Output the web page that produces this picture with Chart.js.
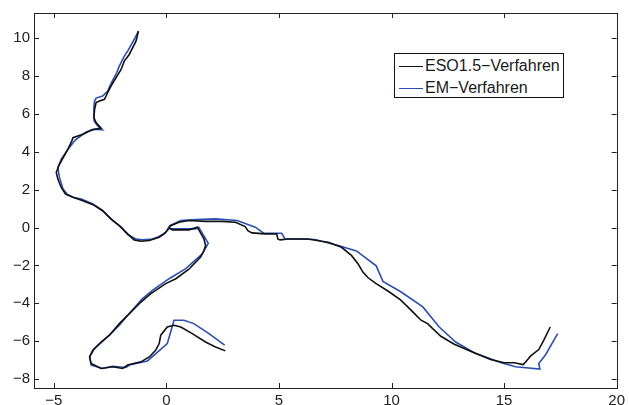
<!DOCTYPE html>
<html>
<head>
<meta charset="utf-8">
<script src="https://cdn.jsdelivr.net/npm/chart.js@4/dist/chart.umd.min.js"></script>
<style>
  html, body { margin: 0; padding: 0; background: #fff; }
  #wrap { position: relative; width: 629px; height: 405px; }
  #legend {
    position: absolute; left: 394px; top: 53px; width: 170px; height: 45px;
    border: 1px solid #111; background: #fff; box-sizing: border-box;
    font-family: "Liberation Sans", Arial, sans-serif; font-size: 16px; color: #1a1a1a;
  }
  .row { position: absolute; left: 4px; height: 20px; line-height: 20px; white-space: nowrap; }
  .row span.sw { display: inline-block; width: 24px; height: 0; vertical-align: middle; margin-right: 2px; }
</style>
</head>
<body>
<div id="wrap">
  <canvas id="c" width="629" height="405"></canvas>
  <div id="legend"></div>
</div>
<script>
// Trajectory estimates (x, y) for the two methods.
// Each trajectory has a main run (top branch + long branch to the right)
// and a second run (the loop starting near the origin).
const esoMain = [
  [-1.24,10.37],[-1.35,9.84],[-1.65,9.14],[-1.87,8.79],[-2.01,8.35],[-2.24,7.91],[-2.46,7.47],
  [-2.61,7.12],[-2.75,6.77],[-2.97,6.68],[-3.12,6.6],[-3.19,6.25],[-3.22,5.8],[-3.12,5.54],
  [-2.9,5.25],[-3.19,5.19],[-3.41,5.1],[-3.71,4.93],[-4.15,4.75],[-4.2,4.58],[-4.37,4.14],
  [-4.62,3.61],[-4.78,3.26],[-4.89,2.91],[-4.82,2.56],[-4.67,2.12],[-4.48,1.77],[-4.15,1.6],
  [-3.71,1.42],[-3.26,1.21],[-2.83,0.89],[-2.46,0.46],[-2.09,0.1],[-1.72,-0.33],[-1.43,-0.65],
  [-1.13,-0.72],[-0.76,-0.68],[-0.32,-0.51],[-0.1,-0.33],[0.04,-0.16],[0.12,-0.02],[0.19,0.1],
  [0.56,0.28],[1.0,0.37],[1.74,0.33],[2.47,0.33],[3.07,0.28],[3.5,0.05],[3.62,-0.16],[3.8,-0.28],
  [4.39,-0.33],[4.9,-0.33],[4.95,-0.6],[5.05,-0.65],[5.42,-0.6],[6.3,-0.6],[6.89,-0.72],
  [7.19,-0.77],[7.78,-1.04],[8.22,-1.47],[8.51,-1.91],[8.73,-2.35],[8.96,-2.65],[9.3,-2.95],
  [9.84,-3.35],[10.4,-3.82],[10.72,-4.19],[11.02,-4.54],[11.31,-4.89],[11.6,-5.07],[12.19,-5.74],
  [12.79,-6.16],[13.67,-6.61],[14.4,-6.96],[15.0,-7.14],[15.44,-7.14],[15.85,-7.23],[16.02,-7.0],
  [16.17,-6.79],[16.54,-6.44],[16.76,-5.95],[17.05,-5.25]
];
const esoLoop = [
  [0.12,-0.02],[0.27,-0.12],[1.0,-0.12],[1.37,0.02],[1.67,-0.6],[1.74,-0.95],[1.67,-1.21],
  [1.52,-1.56],[1.0,-2.2],[0.42,-2.7],[-0.03,-2.96],[-0.69,-3.49],[-1.13,-3.93],[-1.57,-4.46],
  [-2.09,-5.07],[-2.53,-5.68],[-2.9,-6.04],[-3.27,-6.47],[-3.41,-6.83],[-3.34,-7.18],[-2.9,-7.44],
  [-2.39,-7.35],[-1.94,-7.44],[-1.72,-7.26],[-1.13,-7.09],[-0.76,-6.83],[-0.47,-6.47],
  [-0.32,-6.12],[-0.25,-5.68],[0.04,-5.25],[0.34,-5.16],[0.64,-5.25],[1.15,-5.6],[1.74,-6.04],
  [2.18,-6.3],[2.62,-6.51]
];
const emMain = [
  [-1.24,10.37],[-1.43,9.93],[-1.72,9.32],[-1.87,9.05],[-2.1,8.5],[-2.2,8.2],[-2.46,7.6],
  [-2.61,7.21],[-2.83,6.95],[-3.12,6.84],[-3.19,6.68],[-3.22,6.33],[-3.21,5.63],[-3.05,5.37],
  [-2.84,5.16],[-3.27,5.19],[-3.6,5.02],[-4.05,4.62],[-4.37,4.14],[-4.67,3.61],[-4.82,3.17],
  [-4.75,2.65],[-4.59,2.04],[-4.4,1.75],[-4.15,1.6],[-3.78,1.51],[-3.26,1.25],[-2.83,0.89],
  [-2.39,0.37],[-2.01,0.02],[-1.72,-0.37],[-1.35,-0.6],[-1.06,-0.65],[-0.62,-0.6],[-0.32,-0.47],
  [-0.03,-0.25],[0.15,0.1],[0.64,0.37],[1.3,0.42],[2.18,0.46],[3.14,0.37],[3.95,0.02],
  [4.32,-0.3],[4.83,-0.3],[5.12,-0.3],[5.27,-0.6],[5.86,-0.6],[6.6,-0.63],[7.63,-0.95],
  [8.44,-1.23],[9.32,-2.02],[9.62,-2.84],[10.43,-3.4],[11.39,-4.19],[12.12,-5.25],[12.85,-6.04],
  [13.67,-6.61],[14.84,-7.12],[15.51,-7.35],[16.59,-7.47],[16.54,-7.17],[16.83,-6.74],[17.38,-5.6]
];
const emLoop = [
  [0.19,-0.07],[1.3,-0.07],[1.44,0.02],[1.86,-0.83],[1.59,-1.39],[1.52,-1.47],[0.86,-2.17],
  [0.12,-2.7],[-0.62,-3.32],[-1.06,-3.75],[-1.65,-4.54],[-2.09,-5.16],[-2.53,-5.68],[-3.19,-6.39],
  [-3.41,-6.83],[-3.34,-7.26],[-2.83,-7.44],[-2.39,-7.32],[-1.79,-7.39],[-1.65,-7.26],
  [-0.84,-7.04],[-0.47,-6.65],[0.04,-6.12],[0.34,-4.89],[0.78,-4.89],[1.22,-5.07],[1.89,-5.6],
  [2.59,-6.21]
];

const seriesNames = ['ESO1.5\u2212Verfahren', 'EM\u2212Verfahren'];
const seriesColors = ['#111111', '#2a4fb0'];
const xTicks = [-5, 0, 5, 10, 15, 20];
const yTicks = [-8, -6, -4, -2, 0, 2, 4, 6, 8, 10];
const xRange = [-5.88, 20];
const yRange = [-8.47, 11.33];

const toPts = arr => arr.map(p => ({ x: p[0], y: p[1] }));
const mkSet = (label, data, color) => ({
  label, data: toPts(data), borderColor: color, backgroundColor: color,
  borderWidth: 1.6, pointRadius: 0, showLine: true, tension: 0, fill: false
});

const FONT = '"Liberation Sans", Arial, sans-serif';
const fmt = v => (v < 0 ? '\u2212' + Math.abs(v) : String(v));

// MATLAB-style box with inward ticks on all four sides
const boxTicks = {
  id: 'boxTicks',
  afterDraw(chart) {
    const { ctx, chartArea: a, scales: { x, y } } = chart;
    const L = 5;
    ctx.save();
    ctx.strokeStyle = '#222';
    ctx.lineWidth = 1;
    ctx.beginPath();
    xTicks.forEach(v => {
      const px = Math.round(x.getPixelForValue(v)) + 0.5;
      ctx.moveTo(px, a.bottom); ctx.lineTo(px, a.bottom - L);
      ctx.moveTo(px, a.top); ctx.lineTo(px, a.top + L);
    });
    yTicks.forEach(v => {
      const py = Math.round(y.getPixelForValue(v)) + 0.5;
      ctx.moveTo(a.left, py); ctx.lineTo(a.left + L, py);
      ctx.moveTo(a.right, py); ctx.lineTo(a.right - L, py);
    });
    ctx.stroke();
    ctx.strokeRect(Math.round(a.left) + 0.5, Math.round(a.top) + 0.5,
                   Math.round(a.right - a.left), Math.round(a.bottom - a.top));
    ctx.restore();
  }
};

new Chart(document.getElementById('c'), {
  type: 'scatter',
  data: {
    datasets: [
      mkSet(seriesNames[0], esoMain, seriesColors[0]),
      mkSet(seriesNames[1], emMain, seriesColors[1]),
      mkSet(seriesNames[0], esoLoop, seriesColors[0]),
      mkSet(seriesNames[1], emLoop, seriesColors[1])
    ]
  },
  options: {
    responsive: false,
    animation: false,
    layout: { padding: { top: 12, right: 9, left: 0, bottom: 0 } },
    plugins: { legend: { display: false }, tooltip: { enabled: false } },
    scales: {
      x: {
        type: 'linear', min: xRange[0], max: xRange[1],
        afterBuildTicks: s => { s.ticks = xTicks.map(v => ({ value: v })); },
        afterFit: s => { s.height = 17; },
        grid: { display: false, drawTicks: false },
        border: { display: false },
        ticks: { padding: 4, color: '#222', font: { family: FONT, size: 15 }, callback: v => fmt(v), maxRotation: 0, autoSkip: false }
      },
      y: {
        type: 'linear', min: yRange[0], max: yRange[1],
        afterBuildTicks: s => { s.ticks = yTicks.map(v => ({ value: v })); },
        afterFit: s => { s.width = 34; },
        grid: { display: false, drawTicks: false },
        border: { display: false },
        ticks: { padding: 4, color: '#222', font: { family: FONT, size: 15 }, callback: v => fmt(v), autoSkip: false }
      }
    }
  },
  plugins: [boxTicks]
});

// Legend box
const lg = document.getElementById('legend');
seriesNames.forEach((name, i) => {
  const row = document.createElement('div');
  row.className = 'row';
  row.style.top = (2 + i * 22) + 'px';
  const sw = document.createElement('span');
  sw.className = 'sw';
  sw.style.borderTop = '1.5px solid ' + seriesColors[i];
  row.appendChild(sw);
  row.appendChild(document.createTextNode(name));
  lg.appendChild(row);
});
</script>
</body>
</html>
